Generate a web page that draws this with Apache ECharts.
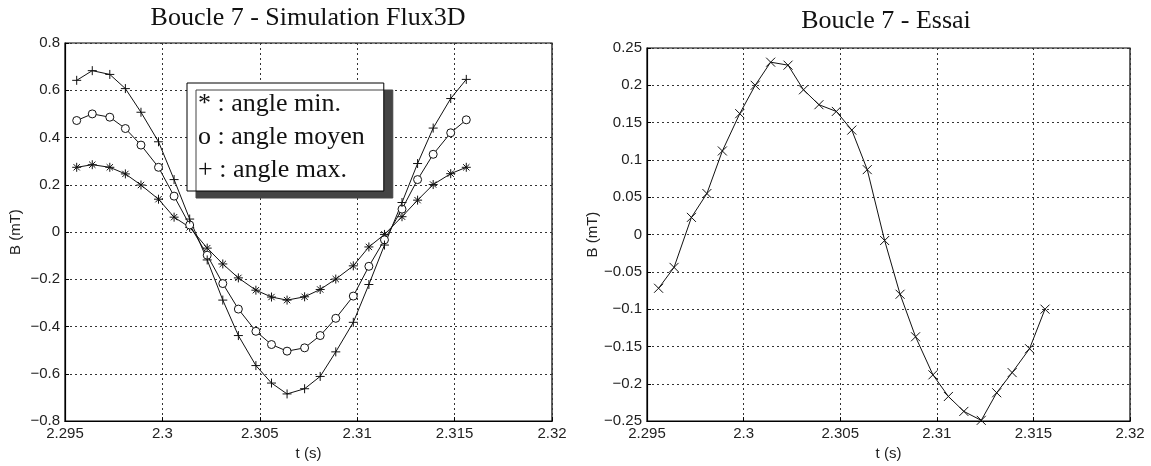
<!DOCTYPE html>
<html>
<head>
<meta charset="utf-8">
<script src="https://cdn.jsdelivr.net/npm/echarts@6/dist/echarts.min.js"></script>
<style>
  html, body { margin: 0; padding: 0; background: #fff; }
  #chart { width: 1151px; height: 466px; }
</style>
</head>
<body>
<div id="chart"></div>
<script>
  // temps (s), communs aux deux graphes
  var times = [2.2956, 2.2964, 2.2973, 2.2981, 2.2989, 2.2998, 2.3006, 2.3014, 2.3023, 2.3031,
    2.3039, 2.3048, 2.3056, 2.3064, 2.3073, 2.3081, 2.3089, 2.3098, 2.3106, 2.3114,
    2.3123, 2.3131, 2.3139, 2.3148, 2.3156];

  // simulation Flux3D, B (mT)
  var bMin = [0.274, 0.285, 0.274, 0.246, 0.199, 0.139, 0.063, 0.02, -0.068, -0.135,
    -0.194, -0.246, -0.275, -0.288, -0.274, -0.243, -0.199, -0.143, -0.063, -0.01,
    0.065, 0.135, 0.201, 0.247, 0.274];
  var bMoy = [0.472, 0.5, 0.486, 0.438, 0.368, 0.274, 0.152, 0.03, -0.098, -0.218,
    -0.326, -0.42, -0.476, -0.504, -0.49, -0.438, -0.365, -0.271, -0.145, -0.033,
    0.097, 0.222, 0.329, 0.42, 0.475];
  var bMax = [0.642, 0.683, 0.667, 0.607, 0.507, 0.382, 0.222, 0.055, -0.118, -0.288,
    -0.438, -0.565, -0.639, -0.685, -0.663, -0.611, -0.507, -0.382, -0.222, -0.055,
    0.125, 0.29, 0.44, 0.565, 0.646];

  // essai, B (mT)
  var bEssai = [-0.072, -0.044, 0.023, 0.055, 0.112, 0.162, 0.2, 0.231, 0.227, 0.194,
    0.174, 0.165, 0.14, 0.087, -0.008, -0.08, -0.137, -0.188, -0.217, -0.237,
    -0.249, -0.212, -0.185, -0.153, -0.1];

  var names = ['* : angle min.', 'o : angle moyen', '+ : angle max.'];

  // symboles type matlab
  var symStar = 'path://M5,0L5,10M0,5L10,5M1.5,1.5L8.5,8.5M1.5,8.5L8.5,1.5';
  var symPlus = 'path://M5,0L5,10M0,5L10,5';
  var symCross = 'path://M0,0L10,10M0,10L10,0';
  var symCircle = 'path://M10,5A5,5,0,1,1,0,5A5,5,0,1,1,10,5Z';

  function pairs(ys) {
    var out = [];
    for (var i = 0; i < times.length; i++) out.push([times[i], ys[i]]);
    return out;
  }

  var labelFont = { fontFamily: 'Liberation Sans', fontSize: 15, color: '#222' };

  function xAxisDef(idx) {
    return {
      type: 'value', gridIndex: idx, min: 2.295, max: 2.32, interval: 0.005,
      name: 't (s)', nameLocation: 'middle', nameGap: 22,
      nameTextStyle: { fontFamily: 'Liberation Sans', fontSize: 15, color: '#222' },
      axisLine: { onZero: false, lineStyle: { color: '#000', width: 1.2 } },
      axisTick: { inside: true, length: 4, lineStyle: { color: '#000' } },
      axisLabel: Object.assign({ margin: 5, formatter: function (v) { return String(+v.toFixed(3)); } }, labelFont),
      splitLine: { show: true, lineStyle: { color: '#333', type: [2, 3], width: 1 } }
    };
  }

  function yAxisDef(idx, lim, step, gap) {
    return {
      type: 'value', gridIndex: idx, min: -lim, max: lim, interval: step,
      name: 'B (mT)', nameLocation: 'middle', nameGap: gap, nameRotate: 90,
      nameTextStyle: { fontFamily: 'Liberation Sans', fontSize: 15, color: '#222' },
      axisLine: { onZero: false, lineStyle: { color: '#000', width: 1.2 } },
      axisTick: { inside: true, length: 4, lineStyle: { color: '#000' } },
      axisLabel: Object.assign({ margin: 5, formatter: function (v) { return String(+v.toFixed(2)).replace('-', '\u2212'); } }, labelFont),
      splitLine: { show: true, lineStyle: { color: '#333', type: [2, 3], width: 1 } }
    };
  }

  function lineSeries(name, ys, sym, size, gi) {
    return {
      name: name, type: 'line', xAxisIndex: gi, yAxisIndex: gi,
      data: pairs(ys), symbol: sym, symbolSize: size, showSymbol: true,
      lineStyle: { color: '#111', width: 1 },
      itemStyle: { color: sym === symCircle ? '#fff' : '#111', borderColor: '#111', borderWidth: 1 },
      animation: false
    };
  }

  var myChart = echarts.init(document.getElementById('chart'));

  myChart.setOption({
    backgroundColor: '#fff',
    animation: false,
    title: [
      { text: 'Boucle 7 - Simulation Flux3D', left: 308, top: 5, textAlign: 'center', padding: 0,
        textStyle: { fontFamily: 'Liberation Serif', fontSize: 26, fontWeight: 'normal', color: '#111' } },
      { text: 'Boucle 7 - Essai', left: 886, top: 8, textAlign: 'center', padding: 0,
        textStyle: { fontFamily: 'Liberation Serif', fontSize: 26, fontWeight: 'normal', color: '#111' } }
    ],
    legend: {
      data: names, orient: 'vertical', left: 187, top: 83,
      padding: [8, 19, 8, 6], itemGap: 7,
      icon: 'none', itemWidth: 0, itemHeight: 26,
      backgroundColor: '#fff', borderColor: '#000', borderWidth: 1,
      shadowColor: '#444', shadowBlur: 0, shadowOffsetX: 9, shadowOffsetY: 7,
      selectedMode: false,
      textStyle: { fontFamily: 'Liberation Serif', fontSize: 26, color: '#111' }
    },
    grid: [
      { left: 65, top: 43, width: 487, height: 384, show: true, borderColor: '#000', borderWidth: 1.2 },
      { left: 647, top: 48, width: 483, height: 382, show: true, borderColor: '#000', borderWidth: 1.2 }
    ],
    xAxis: [xAxisDef(0), xAxisDef(1)],
    yAxis: [yAxisDef(0, 0.8, 0.2, 42), yAxisDef(1, 0.25, 0.05, 46)],
    series: [
      lineSeries(names[0], bMin, symStar, 9, 0),
      lineSeries(names[1], bMoy, symCircle, 8, 0),
      lineSeries(names[2], bMax, symPlus, 9, 0),
      lineSeries('Essai', bEssai, symCross, 9, 1)
    ]
  });
</script>
</body>
</html>
